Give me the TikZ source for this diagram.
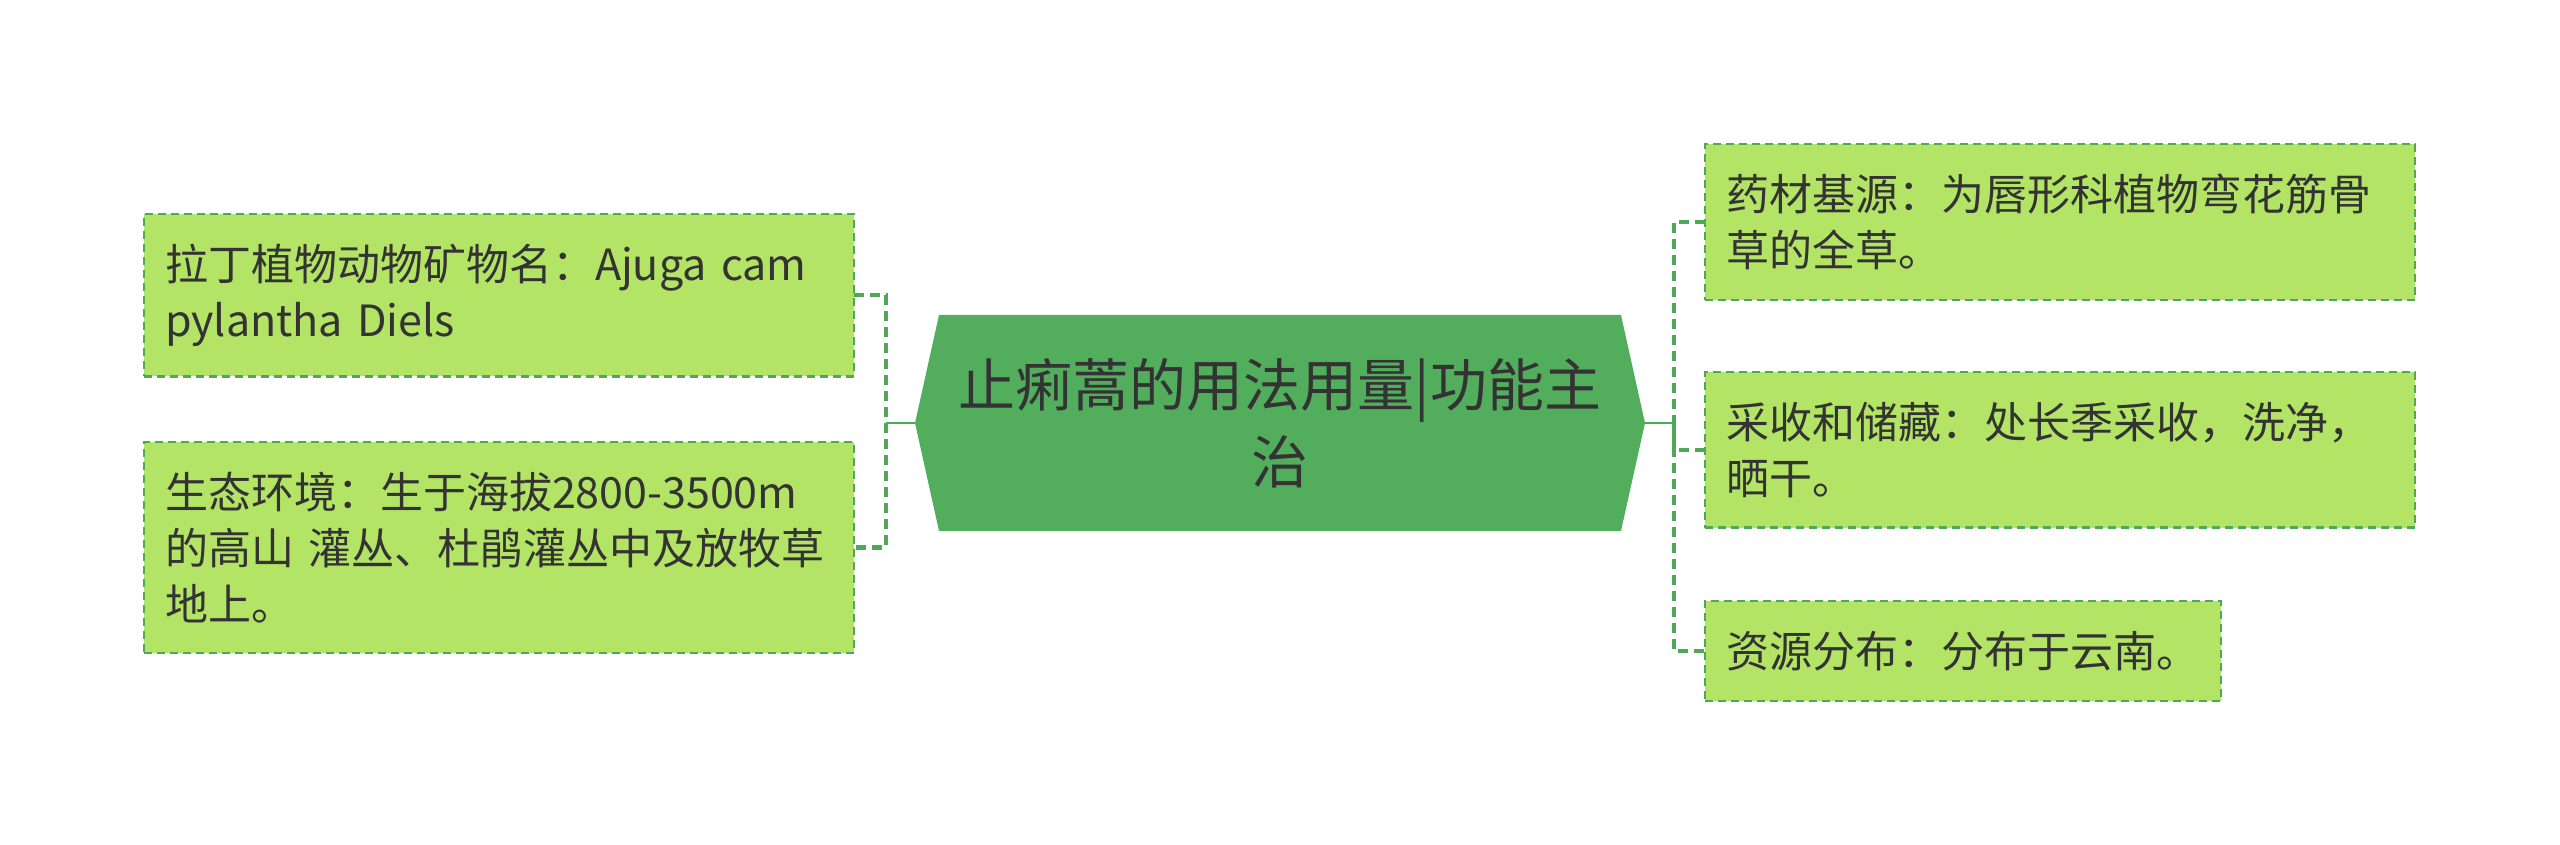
\documentclass[tikz,border=0pt]{standalone}
\usepackage{fontspec}
\newfontfamily\cjk{Noto Sans CJK SC}
\usetikzlibrary{calc}

\definecolor{hubgreen}{HTML}{52AE5C}
\definecolor{leafgreen}{HTML}{B3E465}
\definecolor{edgegreen}{HTML}{4EA957}
\definecolor{inkgray}{HTML}{333333}

\tikzset{
  leaf/.style={draw=edgegreen, fill=leafgreen, line width=1.2pt,
    dash pattern=on 4pt off 2.5pt, anchor=north west, align=left,
    inner xsep=10.5pt, inner ysep=15pt, text width=334pt, text=inkgray,
    font=\cjk\fontsize{21.5pt}{28pt}\selectfont},
  link/.style={draw=edgegreen, line width=2.2pt, dash pattern=on 5pt off 3pt},
  stem/.style={draw=edgegreen, line width=1.4pt},
}

\begin{document}
\begin{tikzpicture}[x=0.5pt, y=-0.5pt, inner sep=0pt, outer sep=0pt]
    \useasboundingbox (0,0) rectangle (2560,845);

    % central topic
    \coordinate (hubc) at (1280,423);
    \fill[hubgreen] ($(hubc)+(-341,-108)$) -- ($(hubc)+(341,-108)$)
      -- ($(hubc)+(365,0)$) -- ($(hubc)+(341,108)$)
      -- ($(hubc)+(-341,108)$) -- ($(hubc)+(-365,0)$) -- cycle;
    \node[minimum width=365pt, minimum height=108pt, align=center, text=inkgray,
      font=\cjk\fontsize{28.5pt}{38.5pt}\selectfont] (hub) at (hubc)
    {止痢蒿的用法用量|功能主\\治};

    % left side
    \node[leaf] (latin) at (144,214)
    {拉丁植物动物矿物名：Ajuga cam\\pylantha Diels};
    \node[leaf] (habitat) at (144,442)
    {生态环境：生于海拔2800-3500m\\的高山 灌丛、杜鹃灌丛中及放牧草\\地上。};

    % right side
    \node[leaf] (origin) at (1705,144)
    {药材基源：为唇形科植物弯花筋骨\\草的全草。};
    \node[leaf] (harvest) at (1705,372)
    {采收和储藏：处长季采收，洗净，\\晒干。};
    \node[leaf, text width=237pt] (range) at (1705,601)
    {资源分布：分布于云南。};

    % connectors
    \coordinate (jl) at ($(hub.west)+(-29,0)$);
    \coordinate (jr) at ($(hub.east)+(29,0)$);
    \draw[link] (latin.east) -| (jl) |- (habitat.east);
    \draw[stem] (jl) -- (hub.west);
    \draw[link] (origin.west) -| (jr) |- (range.west);
    \draw[link] (jr) |- (harvest.west);
    \draw[stem] (hub.east) -- (jr);

\end{tikzpicture}
\end{document}
